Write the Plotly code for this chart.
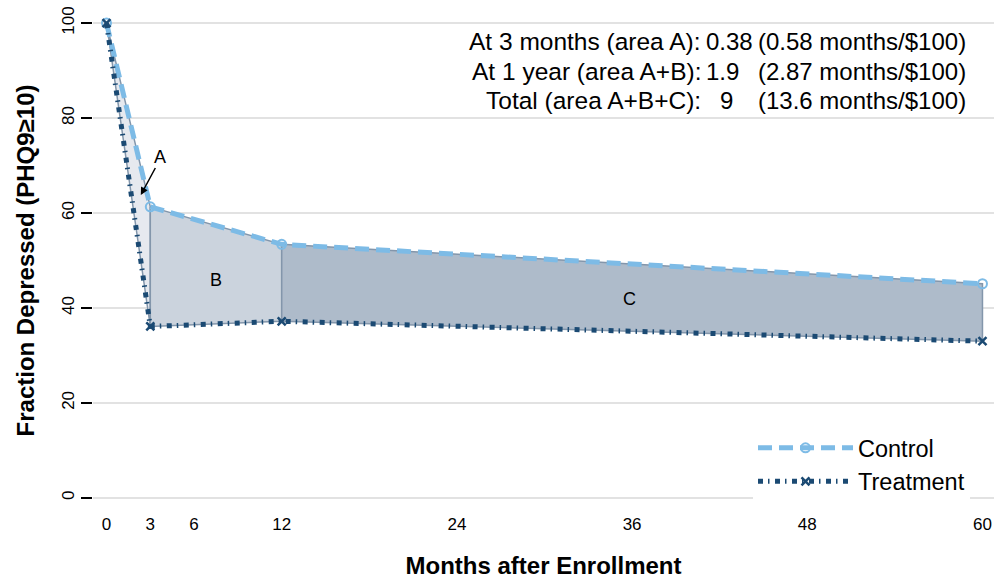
import plotly.graph_objects as go

months = [0, 3, 12, 60]
control = [100, 61.3, 53.4, 45.1]
treatment = [100, 36.1, 37.2, 33.0]
x_ticks = [0, 3, 6, 12, 24, 36, 48, 60]
y_ticks = [0, 20, 40, 60, 80, 100]
area_labels = ["A", "B", "C"]
summary_labels = ["At 3 months (area A):", "At 1 year (area A+B):", "Total (area A+B+C):"]
summary_values = ["0.38", "1.9", "9"]
summary_rates = ["(0.58 months/$100)", "(2.87 months/$100)", "(13.6 months/$100)"]

FONT = "Liberation Sans"
fill_colors = ["#e6e9ef", "#cbd3dd", "#aebbca"]
edge_color = "#8396ab"
ctrl_color = "#7dbbe6"
trt_color = "#1b4a73"

fig = go.Figure()

# shaded areas between the curves
for i in range(3):
    xs = [months[i], months[i + 1], months[i + 1], months[i], months[i]]
    ys = [control[i], control[i + 1], treatment[i + 1], treatment[i], control[i]]
    fig.add_trace(go.Scatter(x=xs, y=ys, fill="toself", fillcolor=fill_colors[i],
                             mode="lines", line=dict(color=edge_color, width=1.5),
                             showlegend=False, hoverinfo="skip"))

fig.add_trace(go.Scatter(x=months, y=control, name="Control", mode="lines+markers",
                         line=dict(color=ctrl_color, width=5, dash="14px,7px"),
                         marker=dict(symbol="circle-open", size=9, color=ctrl_color,
                                     line=dict(width=2, color=ctrl_color))))
fig.add_trace(go.Scatter(x=months, y=treatment, name="Treatment", mode="lines+markers",
                         line=dict(color=trt_color, width=5, dash="5px,5px,1.5px,5.5px"),
                         marker=dict(symbol="x-thin", size=8, color=trt_color,
                                     line=dict(width=2.5, color=trt_color))))

annotations = []
annotations.append(dict(x=2.35, y=63.8, xref="x", yref="y", text="",
                        showarrow=True, ax=3.4, ay=69.8, axref="x", ayref="y",
                        arrowhead=2, arrowsize=1, arrowwidth=1.5, arrowcolor="black"))
annotations.append(dict(x=3.65, y=71.8, xref="x", yref="y", text=area_labels[0],
                        showarrow=False, font=dict(family=FONT, size=18, color="black")))
annotations.append(dict(x=7.5, y=45.9, xref="x", yref="y", text=area_labels[1],
                        showarrow=False, font=dict(family=FONT, size=18, color="black")))
annotations.append(dict(x=35.8, y=41.9, xref="x", yref="y", text=area_labels[2],
                        showarrow=False, font=dict(family=FONT, size=18, color="black")))

# summary table (positions given in page pixels of the plot area)
plot_left, plot_w = 93, 901
plot_bottom, plot_h = 505, 489
def px(p):
    return (p - plot_left) / plot_w
def py(p):
    return (plot_bottom - p) / plot_h
rows_y = [41, 71, 101]
val_x = [704, 704, 718]
for i in range(3):
    yy = py(rows_y[i])
    annotations.append(dict(x=px(703), y=yy, xref="paper", yref="paper", xanchor="right",
                            yanchor="middle", text=summary_labels[i], showarrow=False,
                            font=dict(family=FONT, size=24.5, color="black")))
    annotations.append(dict(x=px(val_x[i]), y=yy, xref="paper", yref="paper", xanchor="left",
                            yanchor="middle", text=summary_values[i], showarrow=False,
                            font=dict(family=FONT, size=24, color="black")))
    annotations.append(dict(x=px(756), y=yy, xref="paper", yref="paper", xanchor="left",
                            yanchor="middle", text=summary_rates[i], showarrow=False,
                            font=dict(family=FONT, size=24, color="black")))

fig.update_layout(
    width=994, height=579,
    margin=dict(l=93, r=0, t=16, b=74, autoexpand=False),
    paper_bgcolor="white", plot_bgcolor="white",
    font=dict(family=FONT, color="black"),
    annotations=annotations,
    legend=dict(x=px(753), xanchor="left", y=py(504), yanchor="bottom",
                bgcolor="white", font=dict(family=FONT, size=23.5, color="black"),
                itemwidth=95, tracegroupgap=0),
    xaxis=dict(range=[-0.925, 60.79], tickvals=x_ticks, ticktext=[str(v) for v in x_ticks],
               showgrid=False, zeroline=False, showline=False, ticks="", automargin=False,
               ticklabelstandoff=7, ticklabeloverflow="allow",
               tickfont=dict(family=FONT, size=17, color="black"),
               title=dict(text="<b>Months after Enrollment</b>",
                          font=dict(family=FONT, size=24, color="black"), standoff=24)),
    yaxis=dict(range=[-1.5, 101.5], tickvals=y_ticks, ticktext=[str(v) for v in y_ticks],
               showgrid=True, gridcolor="#e2e2e2", gridwidth=2, zeroline=False,
               showline=False, ticks="outside", ticklen=11, tickwidth=1.5, tickcolor="black",
               tickangle=-90, automargin=False, ticklabeloverflow="allow",
               tickfont=dict(family=FONT, size=17, color="black"),
               title=dict(text="<b>Fraction Depressed (PHQ9≥10)</b>",
                          font=dict(family=FONT, size=24, color="black"), standoff=17)),
)

fig.write_html("out.html", config={"displayModeBar": False},
               post_script="document.body.style.margin='0';"
                           "document.documentElement.style.overflow='hidden';")
